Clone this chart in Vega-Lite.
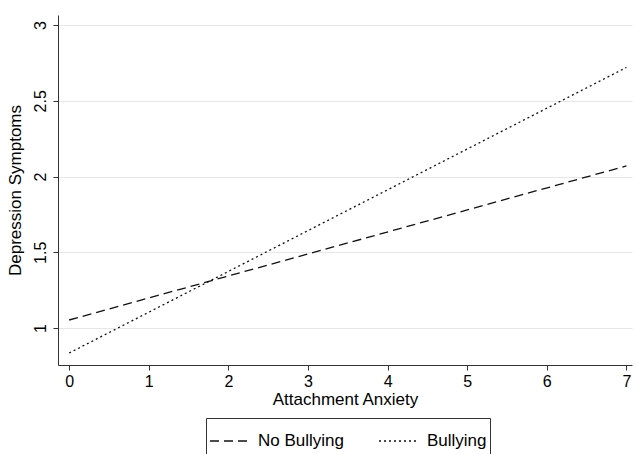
{
  "$schema": "https://vega.github.io/schema/vega-lite/v6.json",
  "autosize": "none",
  "width": 574,
  "height": 350,
  "padding": {"left": 58, "top": 15, "right": 4, "bottom": 89},
  "background": "white",
  "config": {
    "font": "Liberation Sans",
    "view": {"stroke": null},
    "axis": {"labelFont": "Liberation Sans", "titleFont": "Liberation Sans", "labelColor": "#000", "titleColor": "#000", "titleFontWeight": "normal", "domainColor": "#333", "tickColor": "#333", "labelFontSize": 16, "titleFontSize": 17}
  },
  "data": {
    "values": [
      {"anxiety": 0, "dep": 1.053, "group": "No Bullying"},
      {"anxiety": 7, "dep": 2.07, "group": "No Bullying"},
      {"anxiety": 0, "dep": 0.835, "group": "Bullying"},
      {"anxiety": 7, "dep": 2.72, "group": "Bullying"}
    ]
  },
  "mark": {"type": "line", "color": "#111", "strokeWidth": 1.3},
  "encoding": {
    "x": {
      "field": "anxiety", "type": "quantitative",
      "scale": {"domain": [-0.14, 7.07], "nice": false, "zero": false},
      "axis": {"values": [0,1,2,3,4,5,6,7], "grid": false, "title": "Attachment Anxiety", "tickSize": 5, "labelPadding": 3, "titlePadding": 2, "labelFlush": false}
    },
    "y": {
      "field": "dep", "type": "quantitative",
      "scale": {"domain": [0.756, 3.066], "nice": false, "zero": false},
      "axis": {"values": [1,1.5,2,2.5,3], "format": "~g", "grid": true, "gridColor": "#e6e6e6", "gridWidth": 1, "title": "Depression Symptoms", "tickSize": 5, "labelAngle": -90, "labelAlign": "center", "labelBaseline": "bottom", "labelPadding": 5, "titlePadding": 8, "labelFlush": false}
    },
    "strokeDash": {
      "field": "group", "type": "nominal",
      "scale": {"domain": ["No Bullying", "Bullying"], "range": [[9, 5], [2, 3]]},
      "legend": {
        "title": " ", "titleOrient": "bottom", "titleFontSize": 16, "titlePadding": 0,
        "orient": "none", "legendX": 148, "legendY": 403,
        "direction": "horizontal", "symbolType": "stroke", "symbolSize": 1444,
        "symbolStrokeColor": "#111", "symbolStrokeWidth": 1.3,
        "labelFontSize": 17, "labelFont": "Liberation Sans", "labelColor": "#000",
        "labelOffset": 9, "columnPadding": 32, "padding": 3,
        "strokeColor": "#333", "fillColor": "white"
      }
    }
  }
}
